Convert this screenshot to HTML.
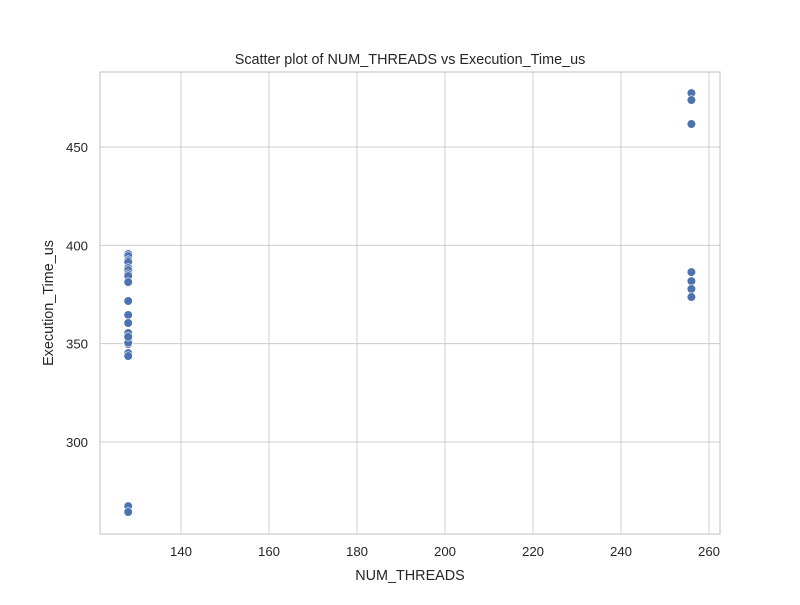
<!DOCTYPE html>
<html><head><meta charset="utf-8"><style>
body{margin:0;background:#fff}
svg text{font-family:"Liberation Sans","DejaVu Sans",sans-serif;fill:#262626}
</style></head><body>
<svg id="chart" width="800" height="600" xmlns="http://www.w3.org/2000/svg">
<rect x="0" y="0" width="800" height="600" fill="#fff"/>
<g id="grid"></g>
<rect x="100" y="72" width="620" height="462" fill="none" stroke="#cccccc" stroke-width="1.25"/>
<g id="ticks"></g>
<g id="points"></g>
<text x="410" y="64" text-anchor="middle" font-size="14.4">Scatter plot of NUM_THREADS vs Execution_Time_us</text>
<text x="410" y="580" text-anchor="middle" font-size="14.4">NUM_THREADS</text>
<text x="0" y="0" transform="translate(53,303) rotate(-90)" text-anchor="middle" font-size="14.4">Execution_Time_us</text>
</svg>
<script>
const xVals=[128,128,128,128,128,128,128,128,128,128,128,128,128,128,128,128,128,128,128,128,128,128,256,256,256,256,256,256,256];
const yVals=[395.6,394.6,392.5,391.5,388.5,387.4,385.4,384.4,381.3,371.7,364.6,360.5,355.4,352.4,350.8,349.8,345.2,343.7,267.4,264.4,350.5,353.5,477.4,473.9,461.7,386.4,381.8,377.8,373.7];
const xTicks=[140,160,180,200,220,240,260];
const yTicks=[300,350,400,450];
const NS="http://www.w3.org/2000/svg";
function sx(v){return 181+(v-140)*4.4;}
function sy(v){return 442-(v-300)*1.9667;}
const grid=document.getElementById('grid'),ticks=document.getElementById('ticks'),pts=document.getElementById('points');
function mk(tag,attrs,parent){const e=document.createElementNS(NS,tag);for(const k in attrs)e.setAttribute(k,attrs[k]);parent.appendChild(e);return e;}
xTicks.forEach(t=>{const x=sx(t);
 const l=mk('line',{x1:x,x2:x,y1:72,y2:534,stroke:'#cccccc','stroke-width':1},grid);
 
 
 const tx=mk('text',{x:x,y:556,'text-anchor':'middle','font-size':13.2},ticks);tx.textContent=t;
 
 
});
yTicks.forEach(t=>{const y=sy(t);
 const l=mk('line',{x1:100,x2:720,y1:y,y2:y,stroke:'#cccccc','stroke-width':1},grid);
 
 
 const tx=mk('text',{x:88,y:y+5,'text-anchor':'end','font-size':13.2},ticks);tx.textContent=t;
 
 
});
xVals.forEach((xv,i)=>{
 const c=mk('circle',{cx:sx(xv),cy:sy(yVals[i]),r:4.3,fill:'#4c72b0',stroke:'#fff','stroke-width':0.6},pts);
 
 
});
</script>
</body></html>
